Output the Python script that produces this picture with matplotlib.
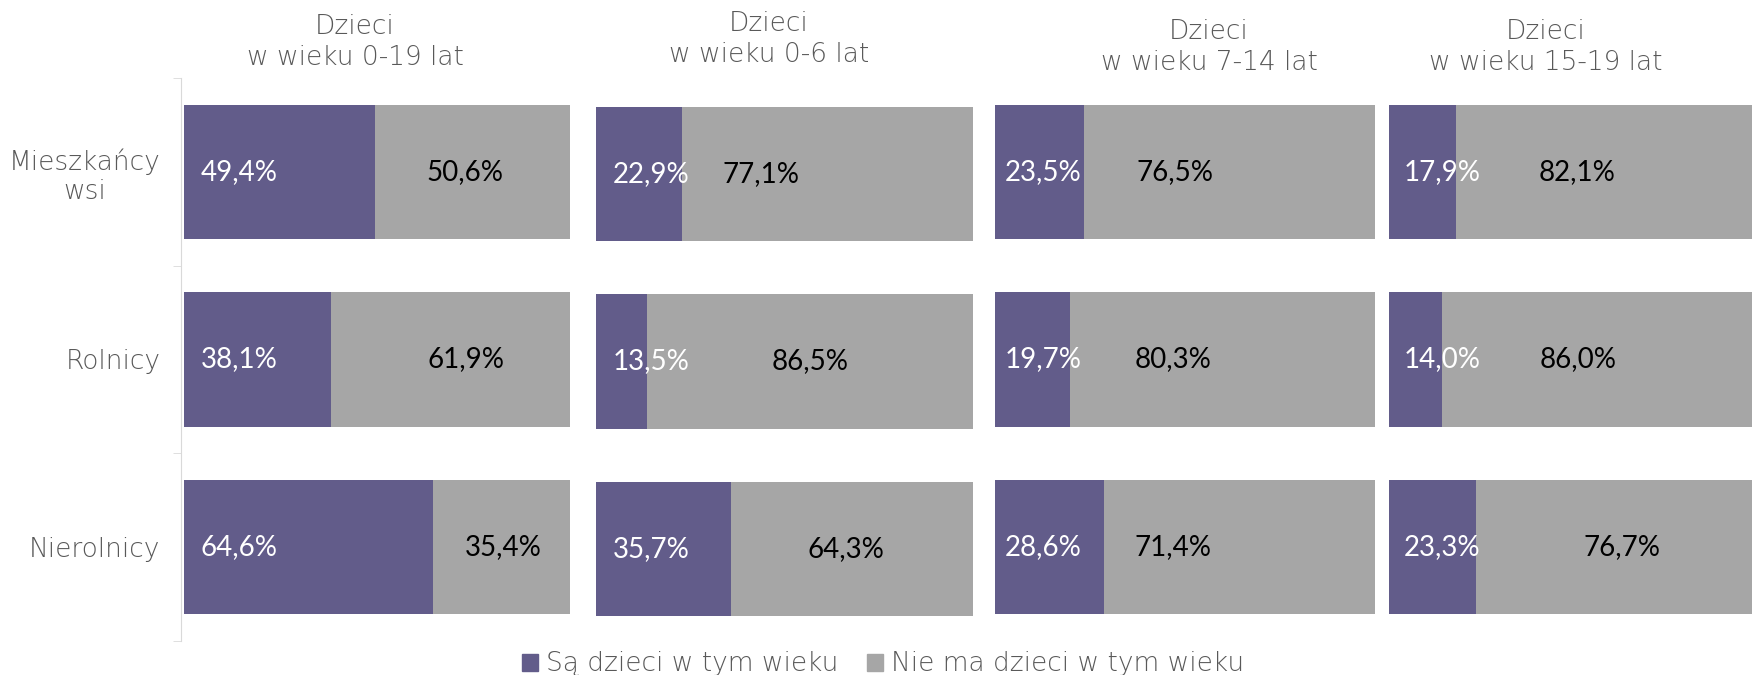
import matplotlib.pyplot as plt
from matplotlib.patches import Patch

plt.rcParams['font.family'] = ['DejaVu Sans']

# data
groups = ['Mieszkańcy\nwsi', 'Rolnicy', 'Nierolnicy']
panels = ['Dzieci\nw wieku 0-19 lat', 'Dzieci\nw wieku 0-6 lat',
          'Dzieci\nw wieku 7-14 lat', 'Dzieci\nw wieku 15-19 lat']
with_kids = [
    [49.4, 38.1, 64.6],
    [22.9, 13.5, 35.7],
    [23.5, 19.7, 28.6],
    [17.9, 14.0, 23.3],
]
without_kids = [
    [50.6, 61.9, 35.4],
    [77.1, 86.5, 64.3],
    [76.5, 80.3, 71.4],
    [82.1, 86.0, 76.7],
]
series_names = ['Są dzieci w tym wieku', 'Nie ma dzieci w tym wieku']

purple = '#625C8A'
grey = '#A6A6A6'
text_grey = '#595959'
num_font = ['Lato', 'DejaVu Sans']

W, H = 1752, 675
fig = plt.figure(figsize=(W / 100, H / 100), dpi=100)

# panel placement in pixels: left, right, top, bottom
boxes = [(184, 570, 78, 641), (596, 973, 80, 643), (995, 1375, 78, 641), (1389, 1764, 78, 641)]
title_pos = [(355, 42), (769, 39), (1209, 47), (1546, 47)]
# label placement (percent of panel width)
purple_off = [4.4, 4.4, 2.6, 4.0]
grey_lab_x = [[72.7, 73.0, 82.6], [43.8, 56.8, 66.4], [47.4, 46.8, 46.8], [50.1, 50.4, 62.1]]

for i in range(4):
    l, r, t, b = boxes[i]
    ax = fig.add_axes([l / W, 1 - b / H, (r - l) / W, (b - t) / H])
    y = range(len(groups))
    ax.barh(y, with_kids[i], height=0.715, color=purple)
    ax.barh(y, without_kids[i], left=with_kids[i], height=0.715, color=grey)
    for j in y:
        ax.text(purple_off[i], j, f'{with_kids[i][j]:.1f}%'.replace('.', ','),
                color='white', fontsize=20, family=num_font,
                va='center', ha='left')
        ax.text(grey_lab_x[i][j], j, f'{without_kids[i][j]:.1f}%'.replace('.', ','),
                color='black', fontsize=20, family=num_font,
                va='center', ha='center')
    ax.set_xlim(0, 100)
    ax.set_ylim(2.5, -0.5)
    ax.set_xticks([])
    for s in ['top', 'right', 'bottom']:
        ax.spines[s].set_visible(False)
    if i == 0:
        ax.spines['left'].set_color('#D9D9D9')
        ax.spines['left'].set_position(('outward', 2))
        ax.set_yticks(list(y))
        ax.set_yticklabels(groups, fontsize=19, color=text_grey,
                           multialignment='center', fontweight='light')
        ax.tick_params(axis='y', which='major', length=0, pad=15)
        ax.set_yticks([-0.5, 0.5, 1.5, 2.5], minor=True)
        ax.tick_params(axis='y', which='minor', length=6, color='#D9D9D9')
    else:
        ax.spines['left'].set_visible(False)
        ax.set_yticks([])
    tx, ty = title_pos[i]
    fig.text(tx / W, 1 - ty / H, panels[i], ha='center', va='center', fontweight='light',
             fontsize=19, color=text_grey, linespacing=1.3)

handles = [Patch(color=purple), Patch(color=grey)]
fig.legend(handles, series_names, loc='center', bbox_to_anchor=(883 / W, 1 - 664 / H),
           ncol=2, frameon=False, handlelength=0.6, handleheight=0.6,
           handletextpad=0.3, columnspacing=1.1, labelcolor=text_grey,
           prop={'size': 19, 'weight': 'light'})

fig.savefig('out.png', dpi=100)
